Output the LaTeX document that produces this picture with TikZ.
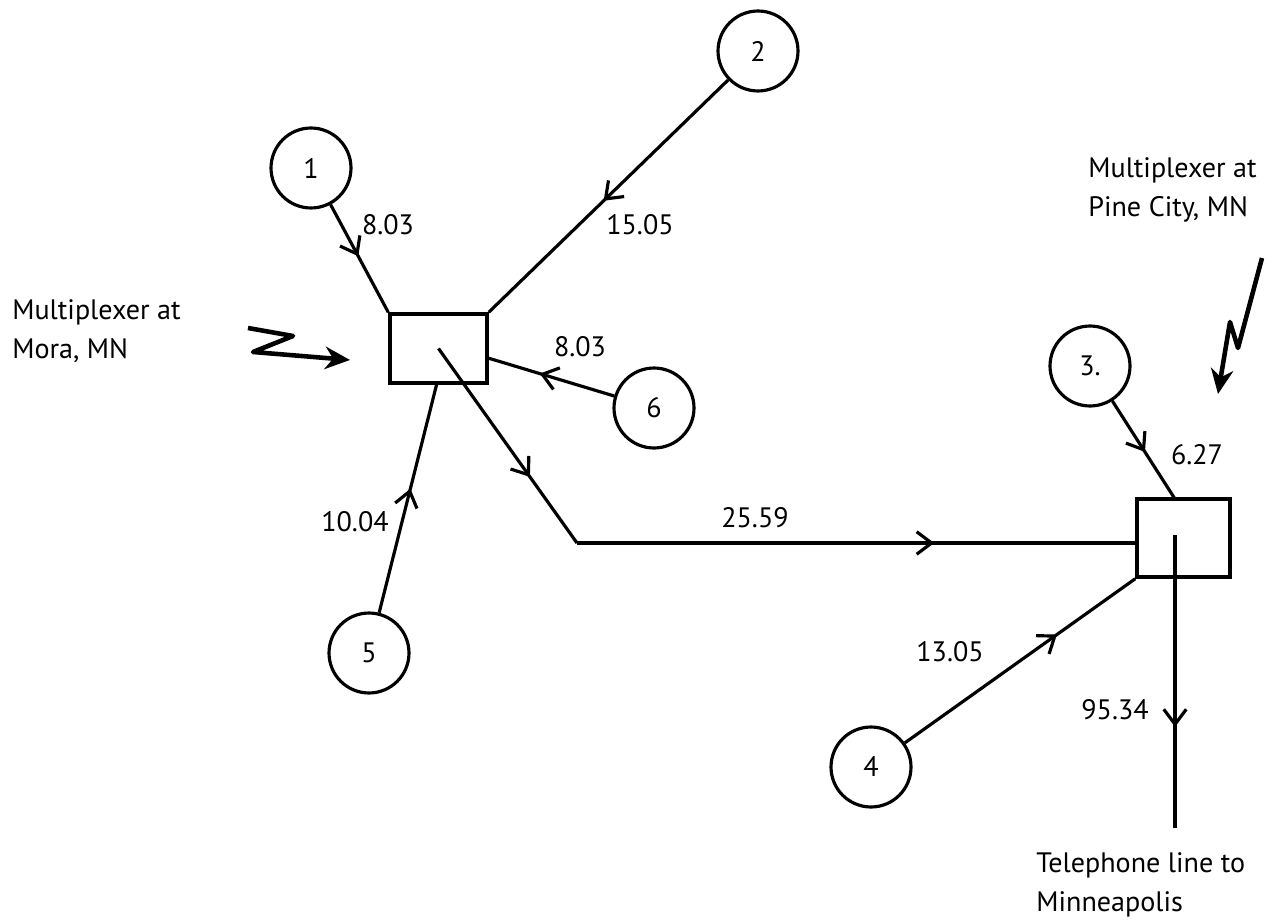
\documentclass[tikz,border=0pt]{standalone}
\usepackage{fontspec}
\setmainfont{PT Sans}
\usetikzlibrary{arrows.meta,decorations.markings}

\tikzset{
  site/.style={circle,draw,line width=1.8pt,minimum size=1.6cm,inner sep=0pt},
  mux/.style={rectangle,draw,line width=2pt,inner sep=0pt},
  lbl/.style={inner sep=0pt},
  note/.style={inner sep=0pt,align=left,anchor=west},
  link/.style={line width=1.8pt},
  flow/.style={link,decoration={markings,
      mark=at position #1 with {\arrow{Straight Barb[length=3mm,width=4.5mm,line width=1.8pt]}}},
      postaction={decorate}},
  pointer/.style={line width=2.6pt,line join=round,-{Stealth[length=5mm,width=4.5mm]}},
  every node/.style={font=\fontsize{16}{22}\selectfont}
}

\begin{document}
\begin{tikzpicture}[x=0.02cm,y=-0.02cm]
  \useasboundingbox (0,0) rectangle (1275,922);

  % remote sites
  \node[site] (s1) at (311,168) {1};
  \node[site] (s2) at (758,51) {2};
  \node[site] (s3) at (1090,366) {3.};
  \node[site] (s4) at (871,767) {4};
  \node[site] (s5) at (369,653) {5};
  \node[site] (s6) at (654,408) {6};

  % multiplexers
  \node[mux,minimum width=1.94cm,minimum height=1.38cm] (mora) at (438.5,348.5) {};
  \node[mux,minimum width=1.86cm,minimum height=1.56cm] (pine) at (1183.5,538) {};

  % lines into the Mora multiplexer
  \draw[flow=0.48] (s1) -- (mora.north west);
  \draw[flow=0.52] (s2) -- (mora.north east);
  \coordinate (m6) at (488,358);
  \draw[flow=0.59] (s6) -- (m6);
  \coordinate (m5) at (437,383);
  \draw[flow=0.54] (s5) -- (m5);

  % trunk from Mora to Pine City
  \coordinate (bend) at (577,543);
  \draw[flow=0.66] (mora.center) -- (bend);
  \draw[flow=0.64] (bend) -- (bend -| pine.west);

  % lines into the Pine City multiplexer
  \coordinate (p3) at (1175,499);
  \draw[flow=0.52] (s3) -- (p3);
  \draw[flow=0.66] (s4) -- (pine.south west);

  % telephone line out
  \coordinate (pin) at (1175,535);
  \coordinate (tel) at (1175,828);
  \draw[flow=0.655] (pin) -- (tel);

  % line speeds
  \node[lbl] (l1) at (388,225) {8.03};
  \node[lbl] (l2) at (640,225) {15.05};
  \node[lbl] (l6) at (580,347) {8.03};
  \node[lbl] (l5) at (355,522) {10.04};
  \node[lbl] (l25) at (755,518) {25.59};
  \node[lbl] (l3) at (1197,455) {6.27};
  \node[lbl] (l4) at (950,652) {13.05};
  \node[lbl] (l95) at (1115,710) {95.34};

  % captions
  \node[note] (cmora) at (12,331) {Multiplexer at\\Mora, MN};
  \node[note] (cpine) at (1088,190) {Multiplexer at\\Pine City, MN};
  \node[note] (ctel) at (1036,885) {Telephone line to\\Minneapolis};

  % hand-drawn pointers
  \coordinate (z1) at (248,328);
  \coordinate (z2) at (293,336);
  \coordinate (z3) at (253,352);
  \coordinate (z4) at (350,360);
  \draw[pointer] (z1) -- (z2) -- (z3) -- (z4);
  \coordinate (b1) at (1262,258);
  \coordinate (b2) at (1238,348);
  \coordinate (b3) at (1230,322);
  \coordinate (b4) at (1218,394);
  \draw[pointer] (b1) -- (b2) -- (b3) -- (b4);
\end{tikzpicture}
\end{document}
